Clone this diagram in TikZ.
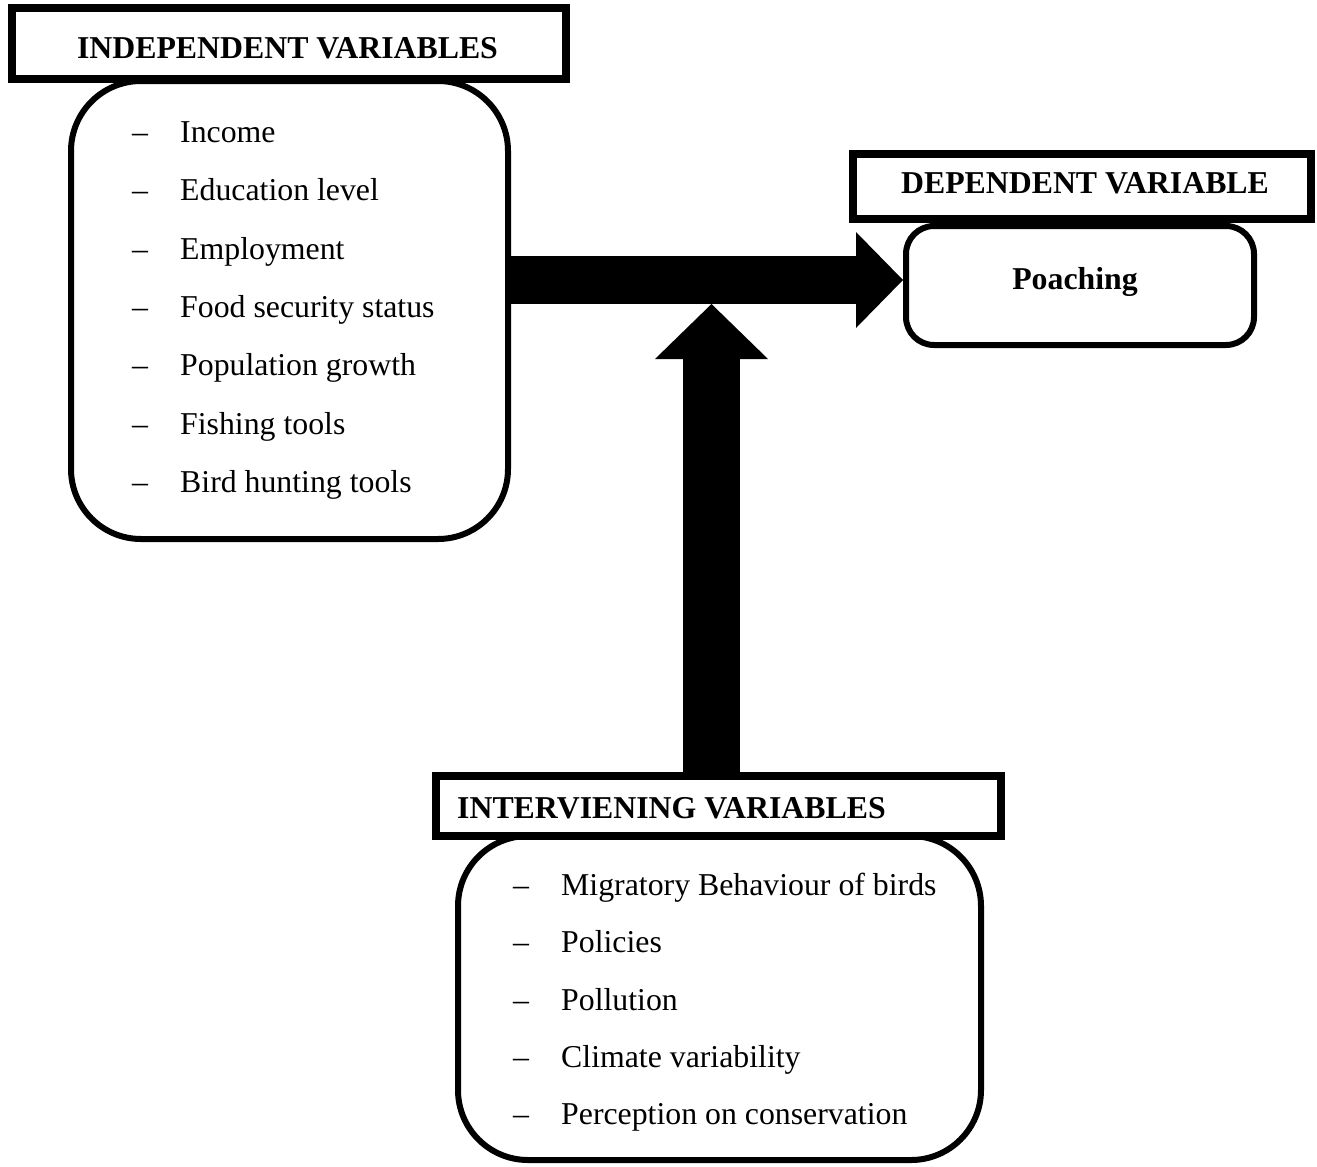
\documentclass[tikz,border=0pt]{standalone}
\usepackage{fontspec}
\setmainfont{Liberation Serif}
\usetikzlibrary{arrows.meta,calc,backgrounds}
\newcommand\myfs{\fontsize{31.8pt}{38pt}\selectfont}
\tikzset{
  headbox/.style={draw, line width=8pt, fill=white, rectangle, inner sep=0pt, outer sep=0pt},
  listbox/.style={draw, line width=6pt, fill=white, rectangle, rounded corners=70pt, inner sep=0pt, outer sep=0pt},
  poachbox/.style={draw, line width=6pt, fill=white, rectangle, rounded corners=28pt, inner sep=0pt, outer sep=0pt},
  headtext/.style={font=\myfs\bfseries, inner sep=0pt, anchor=base},
  itemtext/.style={font=\myfs, inner sep=0pt, anchor=base west},
  hbig/.style={line width=48pt, -{Triangle[length=47pt,width=96pt,line width=0pt]}},
  vbig/.style={line width=57pt, -{Triangle[length=55pt,width=113pt,line width=0pt]}}
}
\begin{document}
\begin{tikzpicture}[x=1pt,y=-1pt]
\useasboundingbox (0,0) rectangle (1317,1167);
% boxes
\node[listbox, minimum width=437pt, minimum height=458pt] (indep) at (289.5,310) {};
\node[poachbox, minimum width=348pt, minimum height=119pt] (poach) at (1080,285.5) {};
\node[listbox, minimum width=523pt, minimum height=324pt] (inter) at (719.5,998) {};
% arrows
\coordinate (htip) at (903,280);
\coordinate (vtip) at (711.5,304);
\draw[hbig] (indep.east |- htip) -- (htip);
% headers
\node[headbox, minimum width=554pt, minimum height=71pt] (indephead) at (289,43.5) {};
\node[headbox, minimum width=458pt, minimum height=65pt] (dephead) at (1082,186.5) {};
\node[headbox, minimum width=565pt, minimum height=60pt] (interhead) at (718.5,806) {};
\begin{scope}[on background layer]
\draw[vbig] (interhead.north -| vtip) -- (vtip);
\end{scope}
% header texts
\node[headtext] (t1) at (287.5,58.5) {INDEPENDENT VARIABLES};
\node[headtext] (t2) at (1085,193.5) {DEPENDENT VARIABLE};
\node[headtext, anchor=base west] (t3) at (457,818.5) {INTERVIENING VARIABLES};
\node[headtext] (t4) at (1075,289) {Poaching};
% independent items
\foreach \txt [count=\k from 0] in {Income,Education level,Employment,Food security status,Population growth,Fishing tools,Bird hunting tools}{
  \node[itemtext] (id\k) at (132,142.5+58.33*\k) {--};
  \node[itemtext] (it\k) at (180,142.5+58.33*\k) {\txt};
}
% intervening items
\foreach \txt [count=\k from 0] in {Migratory Behaviour of birds,Policies,Pollution,Climate variability,Perception on conservation}{
  \node[itemtext] (vd\k) at (513,895.5+57.25*\k) {--};
  \node[itemtext] (vt\k) at (561,895.5+57.25*\k) {\txt};
}
\end{tikzpicture}
\end{document}
